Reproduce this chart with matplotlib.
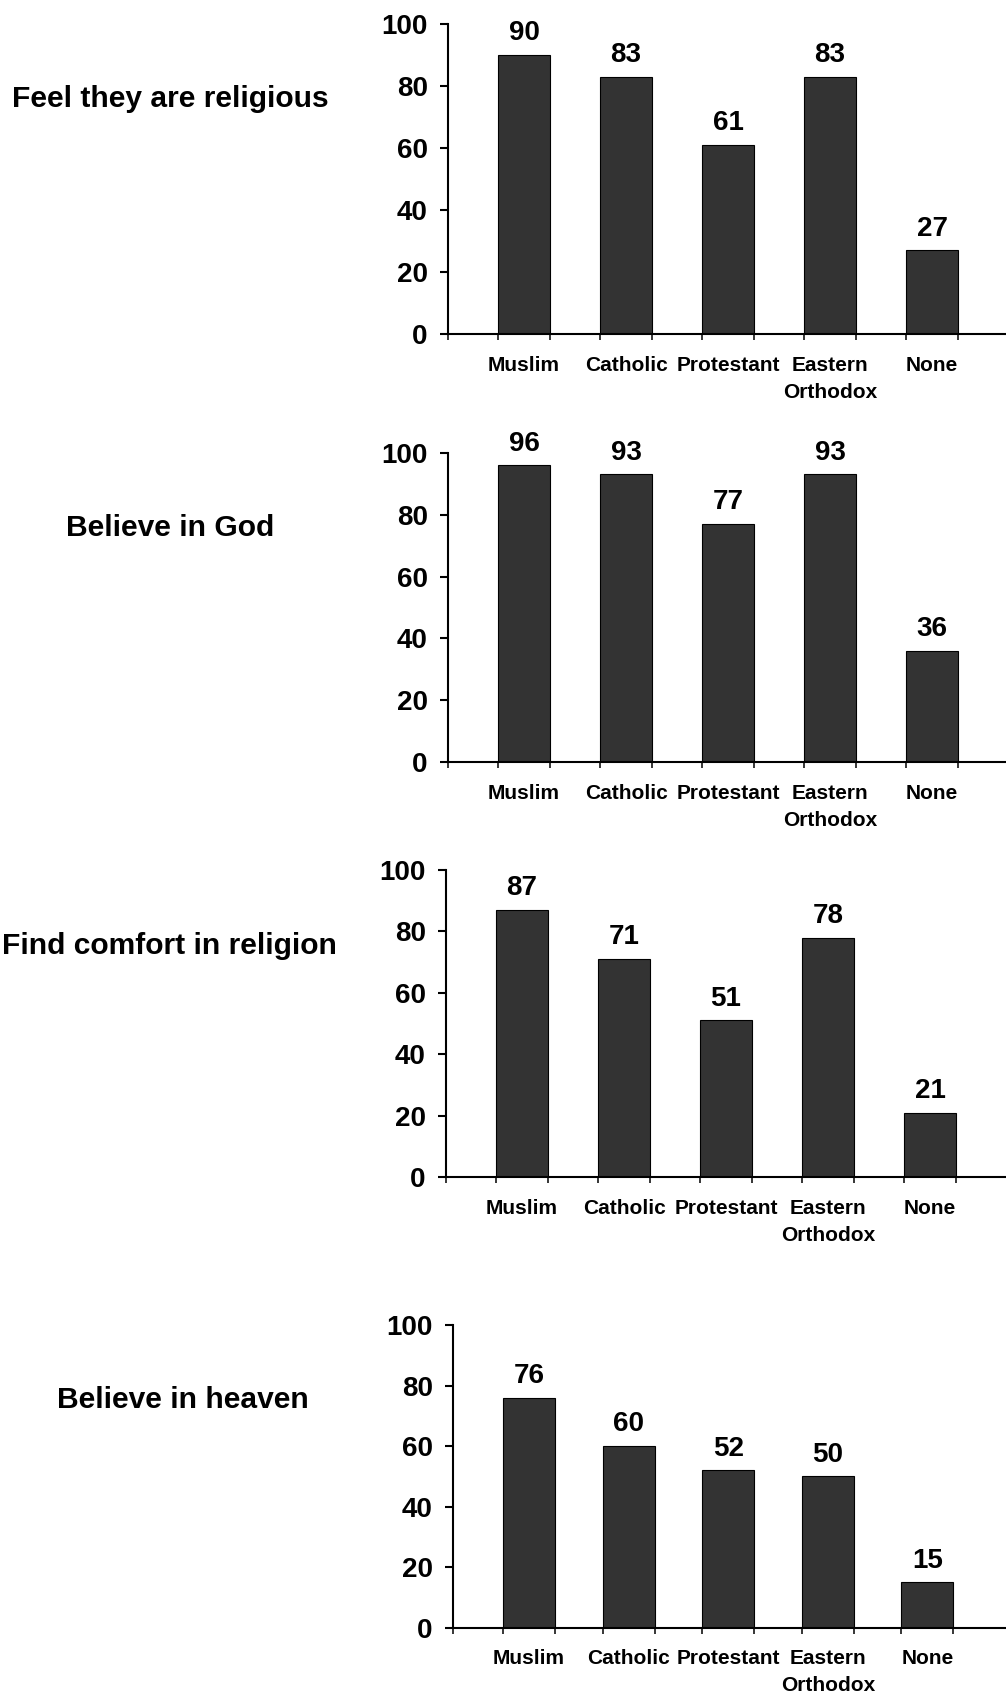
import matplotlib
matplotlib.use("Agg")
import matplotlib.pyplot as plt
import numpy as np

plt.rcParams['font.family'] = ['Liberation Sans', 'DejaVu Sans']
plt.rcParams['font.weight'] = 'bold'

religions = ['Muslim', 'Catholic', 'Protestant', 'Eastern\nOrthodox', 'None']
questions = ['Feel they are religious', 'Believe in God',
             'Find comfort in religion', 'Believe in heaven']

religious = [90, 83, 61, 83, 27]
god = [96, 93, 77, 93, 36]
comfort = [87, 71, 51, 78, 21]
heaven = [76, 60, 52, 50, 15]
values = [religious, god, comfort, heaven]

W, H = 1006, 1692
fig = plt.figure(figsize=(W / 100, H / 100), dpi=100)

# pixel layout of each panel: y-axis x, first bar centre, bar step, y of 100, y of 0
panels = [
    (448, 524, 102.0, 24.0, 334.0),
    (448, 524, 102.0, 452.7, 762.3),
    (446, 522, 102.0, 870.0, 1177.0),
    (453, 529, 99.6, 1325.0, 1627.5),
]
# question label: centre x, baseline y
title_pos = [(170, 107), (170, 536), (169, 954), (183, 1408)]

x = np.arange(len(religions))

for vals, (ax_x, c0, step, y100, y0), q, (tx, ty) in zip(values, panels, questions, title_pos):
    ax = fig.add_axes([ax_x / W, 1 - y0 / H, (W - ax_x) / W, (y0 - y100) / H])
    x_left = -(c0 - ax_x) / step
    x_right = x_left + (W - ax_x) / step
    width = 52 / step

    ax.bar(x, vals, width=width, color='#333333', edgecolor='black', linewidth=0.8)
    for xi, v in zip(x, vals):
        ax.annotate(str(v), (xi, v), xytext=(0, 10.5), textcoords='offset points',
                    ha='center', va='baseline', fontsize=20, fontweight='bold')

    ax.set_xlim(x_left, x_right)
    ax.set_ylim(0, 100)
    ax.set_yticks(np.arange(0, 101, 20))
    ax.tick_params(axis='y', direction='out', length=6, width=1.5, pad=8.5, labelsize=20)

    # category names under the bars, tick marks on the bar edges
    ax.set_xticks(x)
    ax.set_xticklabels(religions, fontsize=15, fontweight='bold', linespacing=1.55)
    ax.tick_params(axis='x', which='major', length=0, pad=15.5)
    edges = np.concatenate([[x_left], np.ravel(np.column_stack([x - width / 2, x + width / 2]))])
    ax.set_xticks(edges, minor=True)
    ax.tick_params(axis='x', which='minor', direction='out', length=4.3, width=1.1)

    ax.spines[['right', 'top']].set_visible(False)
    ax.spines[['left', 'bottom']].set_linewidth(1.5)

    fig.text(tx / W, 1 - ty / H, q, ha='center', va='baseline',
             fontsize=21.6, fontweight='bold')

fig.savefig('out.png', dpi=100)
